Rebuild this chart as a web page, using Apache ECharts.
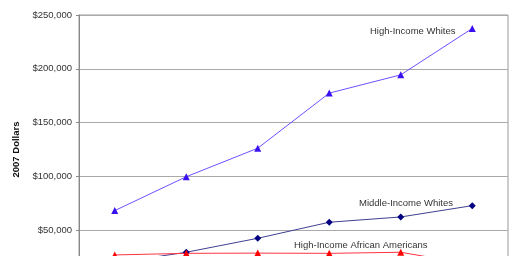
<!DOCTYPE html>
<html><head><meta charset="utf-8">
<script src="https://cdn.jsdelivr.net/npm/echarts@6/dist/echarts.min.js"></script>
<style>html,body{margin:0;padding:0;overflow:hidden;background:#fff;width:512px;height:256px}#c{width:512px;height:310px}</style>
</head><body><div id="c"></div>
<script>
const categories = ['1', '2', '3', '4', '5', '6'];
const highIncomeWhites = [68200, 99700, 126200, 177400, 194400, 237500];
const middleIncomeWhites = [19500, 29500, 42500, 57400, 62300, 72800];
const highIncomeAfricanAmericans = [27000, 28500, 28700, 28500, 29500, 18000];
const yTicks = [0, 50000, 100000, 150000, 200000, 250000];

const fmt = v => '$' + v.toLocaleString('en-US');
const chart = echarts.init(document.getElementById('c'), null, {renderer: 'canvas'});
const font = 'Liberation Sans, Arial, sans-serif';
chart.setOption({
  animation: false,
  backgroundColor: '#ffffff',
  grid: {left: 79, right: 4, top: 15, bottom: 26, show: true, borderColor: '#999', borderWidth: 1},
  xAxis: {
    type: 'category', data: categories, boundaryGap: true,
    axisLine: {lineStyle: {color: '#888'}}, axisTick: {show: false},
    axisLabel: {show: false}
  },
  yAxis: {
    type: 'value', min: yTicks[0], max: yTicks[yTicks.length - 1], interval: 50000,
    name: '2007 Dollars', nameLocation: 'middle', nameGap: 58, nameRotate: 90,
    nameTextStyle: {fontFamily: font, fontSize: 9.5, fontWeight: 'bold', color: '#111'},
    axisLine: {show: true, lineStyle: {color: '#888'}},
    axisTick: {show: true, length: 3, lineStyle: {color: '#888'}},
    axisLabel: {formatter: fmt, fontFamily: font, fontSize: 9.5, color: '#333', margin: 7},
    splitLine: {lineStyle: {color: '#aaa', width: 1}}
  },
  series: [
    {name: 'High-Income Whites', type: 'line', data: highIncomeWhites,
     symbol: 'triangle', symbolSize: 7, lineStyle: {color: '#7050ff', width: 1},
     itemStyle: {color: '#3a10f0'}},
    {name: 'Middle-Income Whites', type: 'line', data: middleIncomeWhites,
     symbol: 'diamond', symbolSize: 7, lineStyle: {color: '#404090', width: 1},
     itemStyle: {color: '#000080'}},
    {name: 'High-Income African Americans', type: 'line', data: highIncomeAfricanAmericans,
     symbol: 'triangle', symbolSize: 7, lineStyle: {color: '#ff3344', width: 1},
     itemStyle: {color: '#ff0000'}}
  ],
  graphic: [
    {type: 'text', left: 370, top: 26, style: {text: 'High-Income Whites', font: '9.5px ' + font, fill: '#333'}},
    {type: 'text', left: 359, top: 198, style: {text: 'Middle-Income Whites', font: '9.5px ' + font, fill: '#333'}},
    {type: 'text', left: 294, top: 240, style: {text: 'High-Income African Americans', font: '9.5px ' + font, fill: '#333'}}
  ]
});
</script></body></html>
